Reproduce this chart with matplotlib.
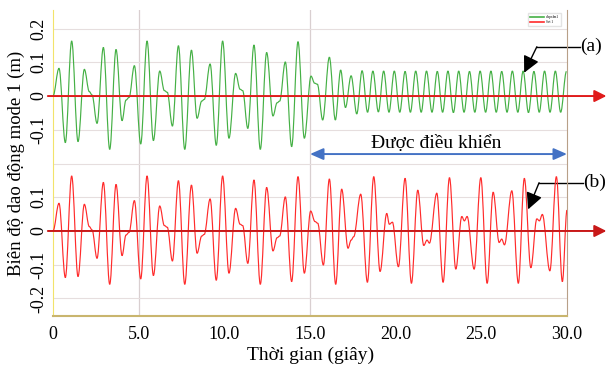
import numpy as np
import matplotlib.pyplot as plt
from matplotlib.path import Path
from matplotlib.patches import PathPatch
from matplotlib.lines import Line2D

# peaks, troughs and shoulders of the uncontrolled response (s, m)
t_free = [0.00, 0.35, 0.72, 1.09, 1.46, 1.83, 2.12, 2.28, 2.57, 2.94,
          3.31, 3.68, 4.03, 4.26, 4.44, 4.75, 5.12, 5.49, 5.86, 6.23,
          6.50, 6.67, 6.97, 7.32, 7.69, 8.08, 8.41, 8.68, 8.83, 9.17,
          9.53, 9.90, 10.27, 10.66, 10.92, 11.07, 11.37, 11.73, 12.10, 12.47,
          12.84, 13.08, 13.23, 13.56, 13.93, 14.30, 14.67, 15.04, 15.29, 15.45,
          15.78, 16.13, 16.50, 16.85, 17.22, 17.40, 17.55, 17.96, 18.35, 18.72,
          19.09, 19.48, 19.63, 19.81, 20.16, 20.55, 20.92, 21.29, 21.64, 21.83,
          21.97, 22.40, 22.77, 23.14, 23.51, 23.86, 24.01, 24.17, 24.58, 24.97,
          25.34, 25.69, 26.04, 26.19, 26.35, 26.78, 27.16, 27.51, 27.89, 28.24,
          28.39, 28.56, 29.00, 29.38, 29.73, 30.00]
x_free = [0.000, 0.082, -0.138, 0.163, -0.135, 0.079, 0.013, 0.003, -0.081, 0.144,
          -0.158, 0.138, -0.073, -0.012, -0.004, 0.090, -0.142, 0.163, -0.132, 0.074,
          0.016, 0.011, -0.089, 0.149, -0.158, 0.136, -0.066, -0.015, -0.010, 0.095,
          -0.146, 0.163, -0.125, 0.067, 0.020, 0.016, -0.096, 0.151, -0.158, 0.129,
          -0.059, -0.020, -0.015, 0.101, -0.150, 0.161, -0.125, 0.059, 0.028, 0.023,
          -0.101, 0.154, -0.158, 0.124, -0.051, -0.027, -0.017, 0.109, -0.152, 0.161,
          -0.120, 0.052, 0.020, 0.026, -0.106, 0.156, -0.155, 0.121, -0.043, -0.027,
          -0.036, 0.112, -0.152, 0.158, -0.113, 0.043, 0.030, 0.043, -0.113, 0.158,
          -0.155, 0.115, -0.034, -0.024, -0.041, 0.119, -0.155, 0.156, -0.109, 0.036,
          0.030, 0.049, -0.118, 0.161, -0.150, 0.062]

# controlled response after switching on at 15 s
t_ctrl = [15.06, 15.27, 15.43, 15.74, 16.13, 16.48, 16.79, 17.07, 17.40, 17.73,
          18.04, 18.36, 18.67, 18.99, 19.30, 19.61, 19.92, 20.24, 20.55, 20.86,
          21.17, 21.49, 21.80, 22.12, 22.43, 22.74, 23.05, 23.37, 23.68, 23.99,
          24.31, 24.62, 24.93, 25.25, 25.56, 25.87, 26.19, 26.50, 26.81, 27.13,
          27.44, 27.75, 28.07, 28.38, 28.69, 29.01, 29.32, 29.63, 29.97]
x_ctrl = [0.059, 0.038, 0.035, -0.071, 0.115, -0.071, 0.077, -0.034, 0.060, -0.053,
          0.075, -0.048, 0.074, -0.047, 0.074, -0.048, 0.074, -0.048, 0.073, -0.048,
          0.074, -0.048, 0.074, -0.048, 0.073, -0.048, 0.074, -0.049, 0.074, -0.048,
          0.073, -0.048, 0.074, -0.048, 0.074, -0.048, 0.073, -0.048, 0.074, -0.048,
          0.074, -0.049, 0.073, -0.048, 0.074, -0.048, 0.074, -0.048, 0.073]

switch_time = 15.0
x_ticks = [0, 5, 10, 15, 20, 25, 30]
x_ticklabels = ['0', '5.0', '10.0', '15.0', '20.0', '25.0', '30.0']
y_labels = ['-0.2', '-0.1', '0', '0.1', '', '-0.1', '0', '0.1', '0.2']

offset = 0.4  # upper trace (a) is drawn shifted up

plt.rcParams['font.family'] = ['Liberation Serif', 'DejaVu Serif']


def wave_path(t, v, shift=0.0, k=0.36):
    # smooth curve through the extrema, flat at each of them
    verts = [(t[0], v[0] + shift)]
    codes = [Path.MOVETO]
    for i in range(len(t) - 1):
        dt = t[i + 1] - t[i]
        verts += [(t[i] + k * dt, v[i] + shift),
                  (t[i + 1] - k * dt, v[i + 1] + shift),
                  (t[i + 1], v[i + 1] + shift)]
        codes += [Path.CURVE4] * 3
    return Path(verts, codes)


t_free = np.array(t_free)
x_free = np.array(x_free)
keep = t_free < switch_time
t_green = np.concatenate([t_free[keep], t_ctrl])
x_green = np.concatenate([x_free[keep], x_ctrl])

fig = plt.figure(figsize=(6.06, 3.67), dpi=100)
ax = fig.add_axes([53 / 606, 1 - 316 / 367, 514 / 606, 306 / 367])

green = '#45b045'
red = '#ff2b2b'

ax.add_patch(PathPatch(wave_path(t_green, x_green, offset), fill=False,
                       edgecolor=green, lw=0.85, zorder=3))
ax.add_patch(PathPatch(wave_path(t_free, x_free), fill=False,
                       edgecolor=red, lw=0.85, zorder=3))

ax.set_xlim(0, 30)
ax.set_ylim(-0.252, 0.655)

ax.set_xticks(x_ticks)
ax.set_xticklabels(x_ticklabels, fontsize=13)
ax.set_yticks(np.arange(-0.2, 0.61, 0.1))
ax.set_yticklabels(y_labels, fontsize=13, rotation=90, va='center')
ax.tick_params(axis='both', length=0)
ax.tick_params(axis='x', pad=7)
ax.tick_params(axis='y', pad=4)
ax.yaxis.grid(True, color='#e6dede', lw=0.8)
ax.set_axisbelow(True)
for xv in (5, 15):
    ax.axvline(xv, color='#d9cfd0', lw=0.9, zorder=0)

ax.spines['top'].set_visible(False)
ax.spines['left'].set_color('#f2e36b')
ax.spines['bottom'].set_color('#c9b56e')
ax.spines['bottom'].set_linewidth(1.5)
ax.spines['right'].set_color('#b8a088')

# zero reference arrows
for y0, col in ((offset, '#e01b1b'), (0.0, '#c81818')):
    ax.annotate('', xy=(32.3, y0), xytext=(-0.3, y0), annotation_clip=False,
                arrowprops=dict(arrowstyle='-|>,head_length=0.8,head_width=0.4',
                                color=col, lw=1.4, mutation_scale=9,
                                shrinkA=0, shrinkB=0), zorder=4)

# controlled interval
ax.annotate('', xy=(30, 0.228), xytext=(15, 0.228),
            arrowprops=dict(arrowstyle='<|-|>,head_length=0.8,head_width=0.35',
                            color='#4472c4', lw=1.4, mutation_scale=10,
                            shrinkA=0, shrinkB=0))
ax.text(22.35, 0.245, 'Được điều khiển', ha='center', va='baseline', fontsize=14)

# (a) and (b) callouts
for corner, tip, end, lab in (((28.24, 0.546), (27.50, 0.469), 30.76, '(a)'),
                              ((28.37, 0.143), (27.73, 0.064), 30.94, '(b)')):
    ax.plot([corner[0], end], [corner[1], corner[1]], color='black', lw=1.0,
            clip_on=False)
    ax.annotate('', xy=tip, xytext=corner, annotation_clip=False,
                arrowprops=dict(arrowstyle='-|>,head_length=1.0,head_width=0.5',
                                color='black', lw=1.0, mutation_scale=10,
                                shrinkA=0, shrinkB=0))
    ax.text(end + 0.65, corner[1], lab, ha='center', va='center', fontsize=14)

ax.set_xlabel('Thời gian (giây)', fontsize=14)
ax.xaxis.set_label_coords(0.502, -0.1)
ax.set_ylabel('Biên độ dao động mode 1 (m)', fontsize=13.5)
ax.yaxis.set_label_coords(-0.054, 0.5)

ax.legend(handles=[Line2D([], [], color=green, lw=1.2),
                   Line2D([], [], color=red, lw=1.2)],
          labels=['dispxlm1', 'Set 1'], loc='upper right',
          bbox_to_anchor=(0.992, 0.995), fontsize=2.5, handlelength=4,
          frameon=True, fancybox=False, edgecolor='#dddddd',
          borderpad=0.5, labelspacing=0.3)

fig.savefig('out.png', dpi=100)
